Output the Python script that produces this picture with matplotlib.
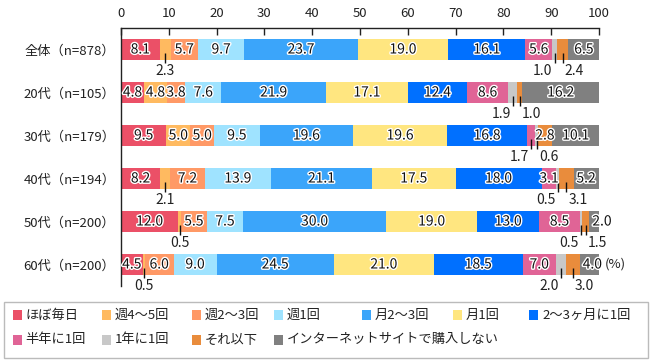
import matplotlib
matplotlib.use("Agg")
import matplotlib.pyplot as plt
import matplotlib.patheffects as pe
from matplotlib.patches import Rectangle
import numpy as np

plt.rcParams["font.family"] = ["Noto Sans CJK JP", "DejaVu Sans"]

# ---------- data ----------
ROWS = ["全体（n=878）", "20代（n=105）", "30代（n=179）",
        "40代（n=194）", "50代（n=200）", "60代（n=200）"]
SERIES = ["ほぼ毎日", "週4～5回", "週2～3回", "週1回", "月2～3回", "月1回",
          "2～3ヶ月に1回", "半年に1回", "1年に1回", "それ以下",
          "インターネットサイトで購入しない"]
COLORS = ["#eb5067", "#ffba60", "#ff9966", "#9fe3ff", "#3ba5fa", "#ffe680",
          "#0070ff", "#e06496", "#c8c8c8", "#e98c3c", "#808080"]

zentai = [8.1, 2.3, 5.7, 9.7, 23.7, 19.0, 16.1, 5.6, 1.0, 2.4, 6.5]
age20 = [4.8, 4.8, 3.8, 7.6, 21.9, 17.1, 12.4, 8.6, 1.9, 1.0, 16.2]
age30 = [9.5, 5.0, 5.0, 9.5, 19.6, 19.6, 16.8, 1.7, 0.6, 2.8, 10.1]
age40 = [8.2, 2.1, 7.2, 13.9, 21.1, 17.5, 18.0, 3.1, 0.5, 3.1, 5.2]
age50 = [12.0, 0.5, 5.5, 7.5, 30.0, 19.0, 13.0, 8.5, 0.5, 1.5, 2.0]
age60 = [4.5, 0.5, 6.0, 9.0, 24.5, 21.0, 18.5, 7.0, 2.0, 3.0, 4.0]
VALUES = np.array([zentai, age20, age30, age40, age50, age60])

# label placement for thin segments: (row, segment) -> mode
#   c = centred below, l = text left of the leader, r = text right of it
OUTSIDE = {
    (0, 1): "c", (0, 8): "l", (0, 9): "r",
    (1, 8): "l", (1, 9): "r",
    (2, 7): "l", (2, 8): "r",
    (3, 1): "c", (3, 8): "l", (3, 9): "r",
    (4, 1): "c", (4, 8): "l", (4, 9): "r",
    (5, 1): "c", (5, 8): "l", (5, 9): "r",
}

fig = plt.figure(figsize=(6.5, 3.6), dpi=100)
ax = fig.add_axes([121 / 650, 1 - 286 / 360, 478 / 650, 258 / 360])

y = np.arange(len(ROWS))
lefts = np.zeros(len(ROWS))
for j, (name, col) in enumerate(zip(SERIES, COLORS)):
    ax.barh(y, VALUES[:, j], left=lefts, height=0.5, color=col, linewidth=0)
    lefts += VALUES[:, j]

stroke = [pe.withStroke(linewidth=2.0, foreground="white")]
cum = np.cumsum(VALUES, axis=1) - VALUES
for i in range(len(ROWS)):
    for j in range(len(SERIES)):
        v = VALUES[i, j]
        xc = cum[i, j] + v / 2
        mode = OUTSIDE.get((i, j))
        if mode is None:
            ha, xt = "center", xc
            if j == len(SERIES) - 1 and v < 3:
                ha, xt = "left", cum[i, j] + 0.6
            elif j == len(SERIES) - 1 and v < 5:
                xt = xc + 0.6
            ax.text(xt, i, f"{v:.1f}", ha=ha, va="center", fontsize=10,
                    color="#111111", path_effects=stroke, clip_on=False)
            continue
        ax.plot([xc, xc], [i + 0.08, i + 0.32], color="#111111", lw=1,
                solid_capstyle="butt")
        if mode == "c":
            ax.text(xc, i + 0.5, f"{v:.1f}", ha="center", va="center",
                    fontsize=10, color="#222222")
        elif mode == "l":
            ax.annotate(f"{v:.1f}", (xc, i + 0.5), xytext=(-1.5, 0),
                        textcoords="offset points", ha="right", va="center",
                        fontsize=10, color="#222222")
        else:
            ax.annotate(f"{v:.1f}", (xc, i + 0.5), xytext=(1.5, 0),
                        textcoords="offset points", ha="left", va="center",
                        fontsize=10, color="#222222")

ax.text(101.2, 5, "(%)", ha="left", va="center", fontsize=9.5,
        color="#222222", clip_on=False)

ax.set_xlim(0, 100)
ax.set_ylim(5.5, -0.5)
ax.set_xticks(np.arange(0, 101, 10))
ax.xaxis.tick_top()
ax.tick_params(axis="x", direction="in", length=5, width=1, pad=6,
               labelsize=9.5, colors="#222222")
ax.set_yticks(y)
ax.set_yticklabels(ROWS)
ax.tick_params(axis="y", length=0, pad=4, labelsize=9.5, colors="#222222")
for s in ["right", "bottom"]:
    ax.spines[s].set_visible(False)
for s in ["top", "left"]:
    ax.spines[s].set_color("#222222")
    ax.spines[s].set_linewidth(1)

# ---------- legend (two rows, fixed grid) ----------
W, H = 650, 360
fig.add_artist(Rectangle((3.5 / W, 1 - 357.5 / H), 644.5 / W, 55.5 / H,
                         transform=fig.transFigure, fill=False,
                         edgecolor="#bbbbbb", linewidth=1))
col_x = [12.7, 101.7, 191.7, 274, 361.7, 452.7, 529]
row_y = [315, 340]
for k, (name, col) in enumerate(zip(SERIES, COLORS)):
    r, c = divmod(k, 7)
    px, py = col_x[c], row_y[r]
    fig.add_artist(Rectangle((px / W, 1 - (py + 5) / H), 9 / W, 10 / H,
                             transform=fig.transFigure, facecolor=col,
                             edgecolor="none"))
    fig.text((px + 13) / W, 1 - py / H, name, ha="left", va="center",
             fontsize=9.5, color="#222222")

fig.savefig("out.png", dpi=100)
